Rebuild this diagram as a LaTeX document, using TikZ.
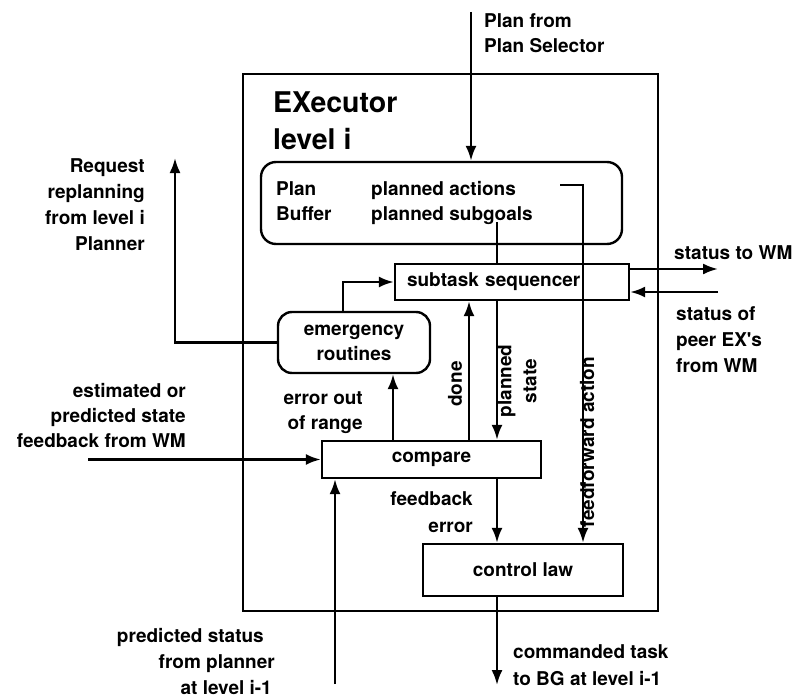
\documentclass[tikz,border=0pt]{standalone}
\usepackage{fontspec}
\setmainfont{TeX Gyre Heros}[Ligatures=TeXOff]
\usetikzlibrary{arrows.meta}
\begin{document}
\begin{tikzpicture}[x=1pt,y=-1pt,line width=2.4pt,
	every node/.style={font=\bfseries\fontsize{19}{25}\selectfont},
	arr/.style={-{Latex[length=15pt,width=11pt]}},
	blk/.style={draw,inner sep=0pt},
	lbl/.style={inner sep=0pt}]
	\useasboundingbox (0,0) rectangle (794,698);
	\draw (243,74) rectangle (658,611);
	\node[lbl,anchor=north west,align=left,font=\bfseries\fontsize{28.5}{37}\selectfont] (title) at (272,91) {EXecutor\\level i};
	% boxes
	\node[blk,rounded corners=15pt,minimum width=361pt,minimum height=82pt] (buf) at (441.5,203) {};
	\node[lbl,anchor=north west,align=left] (bufname) at (275,180) {Plan\\Buffer};
	\node[lbl,anchor=north west,align=left] (bufitems) at (370,180) {planned actions\\planned subgoals};
	\node[blk,minimum height=36pt,text width=210pt,inner xsep=12pt,align=left] (seq) at (512,282) {subtask sequencer};
	\node[blk,rounded corners=14pt,minimum width=152pt,minimum height=61pt,align=center] (emerg) at (354,342.5) {emergency\\routines};
	\node[blk,minimum width=219pt,minimum height=37pt] (cmp) at (431.5,459.5) {compare};
	\node[blk,minimum width=200pt,minimum height=52pt] (ctl) at (523,570) {control law};
	% labels
	\node[lbl,anchor=north west,align=left] (plansel) at (483,12) {Plan from\\Plan Selector};
	\node[lbl,anchor=north east,align=right,font=\bfseries\fontsize{19}{26}\selectfont] (replan) at (146,157) {Request\\replanning\\from level i\hspace*{14pt}\\Planner};
	\node[lbl,anchor=north east,align=right] (estlbl) at (187,382) {estimated or\\predicted state\\feedback from WM};
	\node[lbl,anchor=north east,align=right,font=\bfseries\fontsize{19}{26}\selectfont] (predlbl) at (276,627) {predicted status\hspace*{11pt}\\from planner\\at level i-1\hspace*{3pt}};
	\node[lbl,anchor=north west,align=left,font=\bfseries\fontsize{19}{27}\selectfont] (cmdlbl) at (512,643) {commanded task\\to BG at level i-1};
	\node[lbl,anchor=north west] (outlbl) at (673,244) {status to WM};
	\node[lbl,anchor=north west,align=left,font=\bfseries\fontsize{19}{26}\selectfont] (inlbl) at (675,305) {status of\\peer EX's\\from WM};
	\node[lbl,anchor=north east,align=right] (errlbl) at (364,390) {error out\\of range};
	\node[lbl,anchor=north east,align=right,font=\bfseries\fontsize{19}{27}\selectfont] (fblbl) at (474,490) {feedback\\error};
	\node[lbl,rotate=90] (donelbl) at (455,384) {done};
	\node[lbl,rotate=90,align=center] (pslbl) at (517,381) {planned\\state};
	\node[lbl,rotate=90] (fflbl) at (587,442) {feedforward action};
	% connectors
	\coordinate (plantop) at (471,12);
	\coordinate (pa) at (560,185);
	\coordinate (ps) at (497,222);
	\coordinate (cmdtip) at (497,685);
	\coordinate (replantip) at (175,158);
	\coordinate (wmout) at (718,269);
	\coordinate (wmin) at (718,292);
	\coordinate (est) at (88,459.5);
	\coordinate (pred) at (335,684);
	\draw[arr] (plantop) -- (plantop |- buf.north);
	\draw[arr] (pa) -| ([xshift=60pt]ctl.north);
	\draw (ps) -- (ps |- seq.north);
	\draw[arr] ([xshift=-11pt]emerg.north) |- (seq.west);
	\draw[arr] (emerg.west) -| (replantip);
	\draw[arr] (wmout -| seq.east) -- (wmout);
	\draw[arr] (wmin) -- (wmin -| seq.east);
	\draw[arr] ([xshift=-38.5pt]cmp.north) -- ([xshift=-38.5pt]cmp.north |- emerg.south);
	\draw[arr] ([xshift=37.5pt]cmp.north) -- ([xshift=37.5pt]cmp.north |- seq.south);
	\draw[arr] (ps |- seq.south) -- (ps |- cmp.north);
	\draw[arr] (ps |- cmp.south) -- (ps |- ctl.north);
	\draw[arr] (cmdtip |- ctl.south) -- (cmdtip);
	\draw[arr] (est) -- (cmp.west);
	\draw[arr] (pred) -- (pred |- cmp.south);
\end{tikzpicture}
\end{document}
